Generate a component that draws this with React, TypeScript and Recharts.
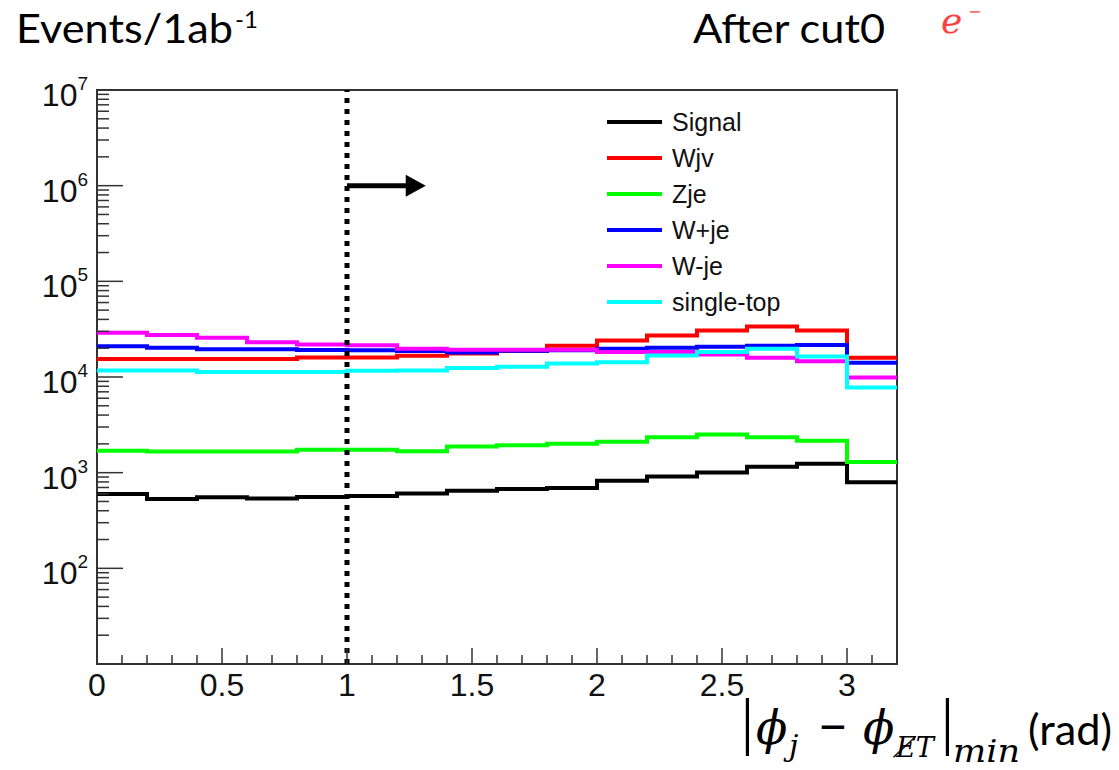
import { LineChart, Line, XAxis, YAxis, ReferenceLine, ReferenceArea } from "recharts"

// bin edges of the histogram (0.2 rad bins)
const binEdges = [0, 0.2, 0.4, 0.6, 0.8, 1.0, 1.2, 1.4, 1.6, 1.8, 2.0, 2.2, 2.4, 2.6, 2.8, 3.0, 3.2]

// events per bin
const signal = [598, 530, 552, 538, 556, 570, 607, 648, 675, 690, 824, 914, 1007, 1155, 1242, 792]
const wjv = [15400, 15400, 15400, 15400, 16000, 16000, 16700, 17600, 18700, 21200, 24100, 27200, 30700, 33800, 30700, 15900]
const zje = [1690, 1660, 1660, 1660, 1740, 1740, 1670, 1880, 1940, 2000, 2110, 2340, 2500, 2340, 2150, 1290]
const wPlusJe = [21000, 20200, 19500, 19500, 19100, 19000, 18700, 18000, 18800, 19000, 19700, 20200, 20700, 21200, 21600, 14100]
const wMinusJe = [29000, 27400, 25700, 23100, 21900, 21500, 19700, 19300, 19300, 19300, 18200, 18200, 17200, 15900, 14600, 9900]
const singleTop = [11700, 11700, 11300, 11300, 11300, 11600, 11700, 12400, 12800, 13800, 14300, 16800, 18200, 19700, 16400, 7760]

const series = [
  { key: "signal", name: "Signal", color: "#000000", values: signal },
  { key: "wjv", name: "Wjv", color: "#ff0000", values: wjv },
  { key: "zje", name: "Zje", color: "#00ff00", values: zje },
  { key: "wplus", name: "W+je", color: "#0000ff", values: wPlusJe },
  { key: "wminus", name: "W-je", color: "#ff00ff", values: wMinusJe },
  { key: "stop", name: "single-top", color: "#00ffff", values: singleTop },
]

const xMajorTicks = [0, 0.5, 1, 1.5, 2, 2.5, 3]
const xTicks = Array.from({ length: 33 }, (_, i) => i / 10)
const decades = [1, 2, 3, 4, 5, 6]
const yTicks = [...decades.flatMap((e) => [1, 2, 3, 4, 5, 6, 7, 8, 9].map((m) => m * 10 ** e)), 1e7]

const cutValue = 1
const arrowEnd = 1.315

// step rows: last edge repeats the last bin so stepAfter closes the histogram
const rows = binEdges.map((x, i) => {
  const k = Math.min(i, signal.length - 1)
  const row: Record<string, number> = { x }
  series.forEach((s) => (row[s.key] = s.values[k]))
  return row
})

const axisColor = "#333"
const tickFont = "'Liberation Sans', Arial, sans-serif"

function XTick(props: any) {
  const { x, y, payload } = props
  const v = payload.value
  const major = xMajorTicks.some((t) => Math.abs(t - v) < 1e-6)
  return (
    <g>
      <line x1={x} y1={y} x2={x} y2={y - (major ? 16 : 9)} stroke={axisColor} strokeWidth={1.5} />
      {major && (
        <text x={x} y={y + 32} textAnchor="middle" fontFamily={tickFont} fontSize={32} fill="#111">
          {String(Math.round(v * 10) / 10)}
        </text>
      )}
    </g>
  )
}

function YTick(props: any) {
  const { x, y, payload } = props
  const v = payload.value
  const lg = Math.log10(v)
  const exp = Math.round(lg)
  const major = Math.abs(lg - exp) < 1e-6
  const ax = x + 9
  return (
    <g>
      <line x1={ax} y1={y} x2={ax + (major ? 26 : 12)} y2={y} stroke={axisColor} strokeWidth={1.5} />
      {major && exp >= 2 && (
        <text x={x} y={y + 16} textAnchor="end" fontFamily={tickFont} fontSize={32} fill="#111">
          10
          <tspan dy={-16} fontSize={19}>
            {exp}
          </tspan>
        </text>
      )}
    </g>
  )
}

function CutArrow(props: any) {
  const { x1, y1, x2 } = props
  return (
    <g>
      <line x1={x1} y1={y1} x2={x2 - 18} y2={y1} stroke="#000" strokeWidth={5} />
      <polygon points={`${x2 - 20},${y1 - 11} ${x2},${y1} ${x2 - 20},${y1 + 11}`} fill="#000" />
    </g>
  )
}

function Legend() {
  return (
    <div style={{ position: "absolute", left: 607, top: 104, fontFamily: tickFont, fontSize: 25, color: "#111" }}>
      {series.map((s) => (
        <div key={s.key} style={{ height: 36, display: "flex", alignItems: "center" }}>
          <span style={{ display: "inline-block", width: 55, height: 4, background: s.color, marginRight: 10 }} />
          <span>{s.name}</span>
        </div>
      ))}
    </div>
  )
}

function Titles() {
  const serif = "'DejaVu Serif', serif"
  return (
    <svg width={1119} height={770} style={{ position: "absolute", left: 0, top: 0, pointerEvents: "none" }}>
      <text x={16} y={43} fontFamily="Lato, sans-serif" fontSize={40} textLength={217} lengthAdjust="spacingAndGlyphs" fill="#000">
        Events/1ab
      </text>
      <text x={235} y={28} fontFamily="Lato, sans-serif" fontSize={24} fill="#000">
        -1
      </text>
      <text x={693} y={43} fontFamily="Lato, sans-serif" fontSize={40} textLength={192} lengthAdjust="spacingAndGlyphs" fill="#000">
        After cut0
      </text>
      <text x={941} y={33} fontFamily={serif} fontStyle="italic" fontSize={36} fill="#ff4040">
        e
      </text>
      <text x={968} y={17} fontFamily={serif} fontSize={16} fill="#ff4040">
        −
      </text>

      <text x={741} y={742} fontFamily="'Liberation Serif', serif" fontSize={64} fill="#000">|</text>
      <text x={756} y={744} fontFamily={serif} fontStyle="italic" fontSize={46} fill="#000">ϕ</text>
      <text x={789} y={756} fontFamily={serif} fontStyle="italic" fontSize={30} fill="#000">j</text>
      <text x={818} y={741} fontFamily={serif} fontSize={44} textLength={30} lengthAdjust="spacingAndGlyphs" fill="#000">−</text>
      <text x={863} y={744} fontFamily={serif} fontStyle="italic" fontSize={46} fill="#000">ϕ</text>
      <text x={896} y={757} fontFamily={serif} fontStyle="italic" fontSize={28} textLength={38} lengthAdjust="spacingAndGlyphs" fill="#000">
        E̸T
      </text>
      <text x={941} y={742} fontFamily="'Liberation Serif', serif" fontSize={64} fill="#000">|</text>
      <text x={953} y={762} fontFamily={serif} fontStyle="italic" fontSize={32} textLength={67} lengthAdjust="spacingAndGlyphs" fill="#000">
        min
      </text>
      <text x={1028} y={745} fontFamily="Lato, sans-serif" fontSize={42} textLength={84} lengthAdjust="spacingAndGlyphs" fill="#000">
        (rad)
      </text>
    </svg>
  )
}

export default function App() {
  return (
    <div style={{ position: "absolute", left: 0, top: 0, width: 1119, height: 770, background: "#fff" }}>
      <LineChart width={1119} height={770} data={rows} margin={{ top: 90, right: 222, bottom: 66, left: 0 }}>
        <XAxis
          dataKey="x"
          type="number"
          domain={[0, 3.2]}
          ticks={xTicks}
          interval={0}
          height={40}
          axisLine={false}
          tickLine={false}
          tickSize={0}
          tickMargin={0}
          tick={<XTick />}
          allowDataOverflow
        />
        <YAxis
          scale="log"
          domain={[10, 1e7]}
          ticks={yTicks}
          interval={0}
          width={97}
          axisLine={false}
          tickLine={false}
          tickSize={0}
          tickMargin={9}
          tick={<YTick />}
          allowDataOverflow
        />
        <ReferenceArea x1={0} x2={3.2} y1={10} y2={1e7} fill="none" stroke={axisColor} strokeWidth={2} fillOpacity={0} />
        {series.map((s) => (
          <Line
            key={s.key}
            dataKey={s.key}
            name={s.name}
            type="stepAfter"
            stroke={s.color}
            strokeWidth={4}
            dot={false}
            activeDot={false}
            isAnimationActive={false}
          />
        ))}
        <ReferenceLine x={cutValue} stroke="#000" strokeWidth={5} strokeDasharray="5 6" />
        <ReferenceLine
          segment={[
            { x: cutValue, y: 1e6 },
            { x: arrowEnd, y: 1e6 },
          ]}
          shape={(p: any) => <CutArrow {...p} />}
        />
      </LineChart>
      <Legend />
      <Titles />
    </div>
  )
}
